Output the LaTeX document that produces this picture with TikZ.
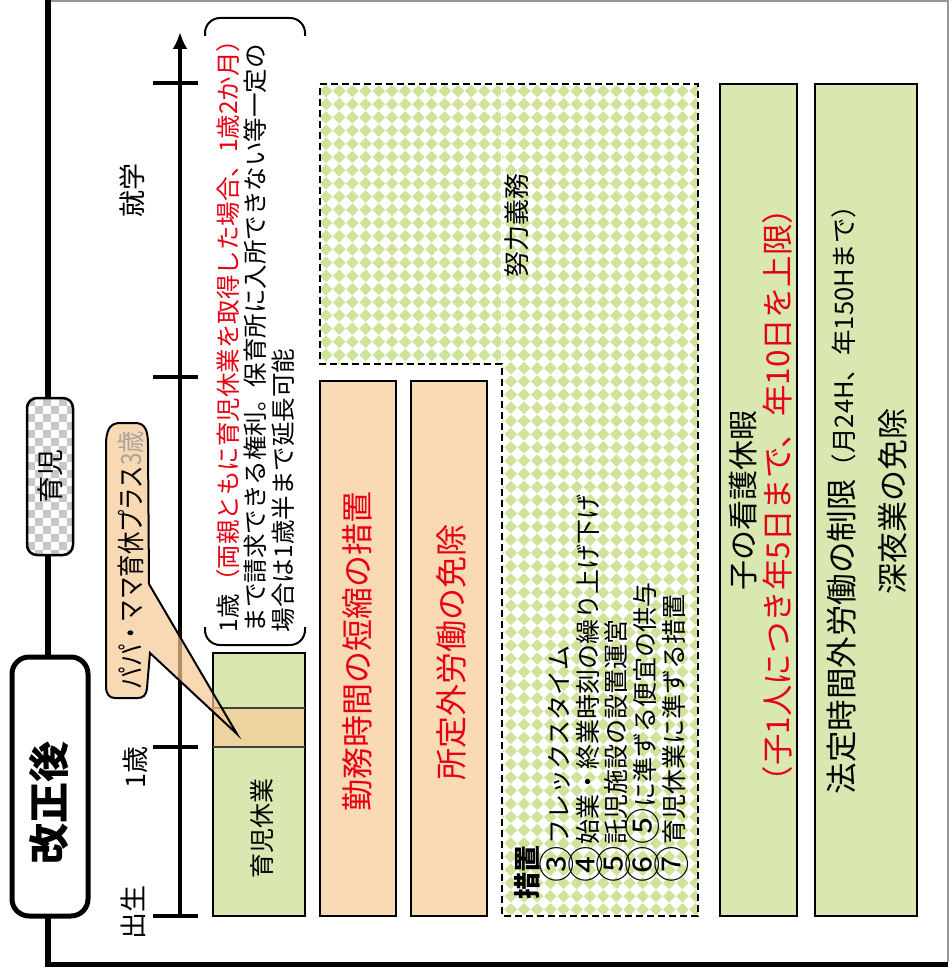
\documentclass[tikz,border=0pt]{standalone}
\usepackage{graphicx}
\usepackage{fontspec}
\setmainfont{Noto Sans CJK JP}
\usetikzlibrary{arrows.meta}
\definecolor{boxgreen}{RGB}{217,231,177}
\definecolor{peach}{RGB}{250,217,181}
\definecolor{bubblefill}{RGB}{247,200,148}
\definecolor{tanband}{RGB}{237,211,160}
\definecolor{jred}{RGB}{230,0,18}
\definecolor{dgreen}{RGB}{207,227,154}
\definecolor{checkgray}{RGB}{200,200,200}
\definecolor{framegray}{RGB}{150,150,150}
\definecolor{faintgray}{RGB}{170,164,158}
\newcommand{\jfs}[1]{\fontsize{#1}{#1}\selectfont}
\newcommand{\cdig}[1]{\raisebox{-0.1em}{\scalebox{1.45}{#1}}\hspace{0.05em}}
\begin{document}
\begin{tikzpicture}[x=1pt,y=-1pt,
  vtext/.style={rotate=90, inner sep=0pt, outer sep=0pt},
  plainbox/.style={draw, line width=2.2pt, inner sep=0pt, outer sep=0pt},
  tickmark/.style={line width=4pt},
  dashedge/.style={line width=2.2pt, dash pattern=on 7pt off 4pt},
]
\useasboundingbox (0,0) rectangle (951,979);

% outer frame
\draw[framegray, line width=1.2pt] (48,1) -- (948,1) -- (948,962);
\draw[line width=5.5pt] (48,0) -- (48,964.5) -- (948,964.5);

% kaisei-go label
\node[draw, line width=5pt, rounded corners=17pt, fill=white, minimum width=76pt, minimum height=259pt, inner sep=0pt] (kaiseibox) at (50,786.5) {};
\node[vtext, font=\bfseries\jfs{41}] (kaisei) at (49,803) {改正後};

% ikuji label (checkered)
\begin{scope}
\clip[rounded corners=10pt] (27,398) rectangle (73,555);
\fill[white] (27,398) rectangle (73,555);
\foreach \i in {0,...,5}{\foreach \j in {0,...,19}{
  \pgfmathtruncatemacro{\pty}{mod(\i+\j,2)}
  \ifnum\pty=0 \fill[checkgray] ({27+8*\i},{398+8*\j}) rectangle ++(8,8); \fi
}}
\end{scope}
\node[draw, line width=2.5pt, rounded corners=10pt, minimum width=46pt, minimum height=157pt, inner sep=0pt] (ikujibox) at (50,476.5) {};
\node[vtext, font=\jfs{27}] (ikuji) at (50,476) {育児};

% time axis
\coordinate (axbot) at (180,916);
\coordinate (axtop) at (180,32);
\draw[line width=4pt, -{Latex[length=17pt,width=15pt]}] (axbot) -- (axtop);
\foreach \yy in {83,377,747,916} \draw[tickmark] (153,\yy) -- (198,\yy);
\node[vtext, font=\jfs{27}] (birth) at (133,912) {出生};
\node[vtext, font=\jfs{27}] (age1) at (135,767) {1歳};
\node[vtext, font=\jfs{27}] (school) at (132,190) {就学};

% bracket note
\draw[line width=2pt, rounded corners=15pt] (205,36) -- (205,18) -- (305,18) -- (305,36);
\draw[line width=2pt, rounded corners=15pt] (205,627) -- (205,645) -- (305,645) -- (305,627);
\node[vtext, anchor=west, font=\jfs{24.5}] (note1) at (228,632) {1歳\textcolor{jred}{（両親ともに育児休業を取得した場合、1歳2か月）}};
\node[vtext, anchor=west, font=\jfs{24.5}] (note2) at (255,632) {まで請求できる権利。保育所に入所できない等一定の};
\node[vtext, anchor=west, font=\jfs{24.5}] (note3) at (283,632) {場合は1歳半まで延長可能};

% ikuji kyugyo box
\node[plainbox, line width=2.5pt, fill=boxgreen, minimum width=92pt, minimum height=263pt] (kyugyobox) at (259,784.5) {};
\fill[tanband] (214.25,708) rectangle (303.75,747);
\draw[line width=1.5pt, black!75] (213,708) -- (305,708) (213,747) -- (305,747);
\node[vtext, font=\jfs{25}] (kyugyo) at (262,828) {育児休業};

% speech bubble
\draw[line width=2pt, fill=bubblefill, fill opacity=0.7]
  (106,445) .. controls (106,430) and (110,423) .. (120,423) -- (135,423)
  .. controls (145,423) and (148,430) .. (148,445) -- (149,584) -- (237,734) -- (150,653)
  -- (147,688) .. controls (146,696) and (143,698) .. (137,698) -- (115,698)
  .. controls (109,698) and (106,694) .. (106,686) -- cycle;
\node[vtext, font=\jfs{28}] (papa) at (131,560) {\scalebox{0.8}[1]{パパ・ママ育休プラス\textcolor{faintgray}{3歳}}};

% orange boxes
\node[plainbox, fill=peach, minimum width=76pt, minimum height=535pt] (kinmubox) at (358,648.5) {};
\node[plainbox, fill=peach, minimum width=76pt, minimum height=535pt] (shoteibox) at (449,648.5) {};
\node[vtext, font=\jfs{32}, text=jred] (kinmu) at (357,651) {勤務時間の短縮の措置};
\node[vtext, font=\jfs{32}, text=jred] (shotei) at (451,652) {所定外労働の免除};

% effort-duty region
\fill[white] (320,84) -- (698,84) -- (698,916) -- (502,916) -- (502,364) -- (320,364) -- cycle;
\begin{scope}
\clip (320,84) -- (698,84) -- (698,916) -- (502,916) -- (502,364) -- (320,364) -- cycle;
\foreach \j in {0,...,63}{
  \fill[dgreen] \foreach \i in {0,...,29}{ ({326+13.2*\i},{91+13.2*\j}) ++(-6.3,0) -- ++(6.3,-6.3) -- ++(6.3,6.3) -- ++(-6.3,6.3) -- cycle };
}
\end{scope}
\draw[white, line width=1pt] (501,86) -- (501,362);
\draw[dashedge] (320,84) -- (698,84) -- (698,916) -- (502,916) -- (502,364) -- (320,364) -- cycle;
\node[vtext, font=\jfs{26}] (doryoku) at (517,225) {努力義務};
\node[vtext, anchor=west, font=\bfseries\jfs{27}] (sochi) at (527,899) {措置};
\node[vtext, anchor=west, font=\jfs{25}] (s3) at (557,882) {\cdig{③}フレックスタイム};
\node[vtext, anchor=west, font=\jfs{25}] (s4) at (586,882) {\cdig{④}始業・終業時刻の繰り上げ下げ};
\node[vtext, anchor=west, font=\jfs{25}] (s5) at (614,882) {\cdig{⑤}託児施設の設置運営};
\node[vtext, anchor=west, font=\jfs{25}] (s6) at (643,882) {\cdig{⑥}\cdig{⑤}に準ずる便宜の供与};
\node[vtext, anchor=west, font=\jfs{25}] (s7) at (672,882) {\cdig{⑦}育児休業に準ずる措置};

% green boxes on the right
\node[plainbox, fill=boxgreen, minimum width=77pt, minimum height=832pt] (kangobox) at (758.5,500) {};
\node[vtext, font=\jfs{30}] (kango1) at (743,500) {子の看護休暇};
\node[vtext, font=\jfs{31.5}, text=jred] (kango2) at (778,495) {（子1人につき年5日まで、年10日を上限）};
\node[plainbox, fill=boxgreen, minimum width=102pt, minimum height=832pt] (houteibox) at (866,500) {};
\node[vtext, anchor=west, font=\jfs{31.5}] (houtei1) at (842,794) {法定時間外労働の制限{\jfs{25.5}（月24H、年150Hまで）}};
\node[vtext, font=\jfs{31}] (houtei2) at (893,501) {深夜業の免除};
\end{tikzpicture}
\end{document}
